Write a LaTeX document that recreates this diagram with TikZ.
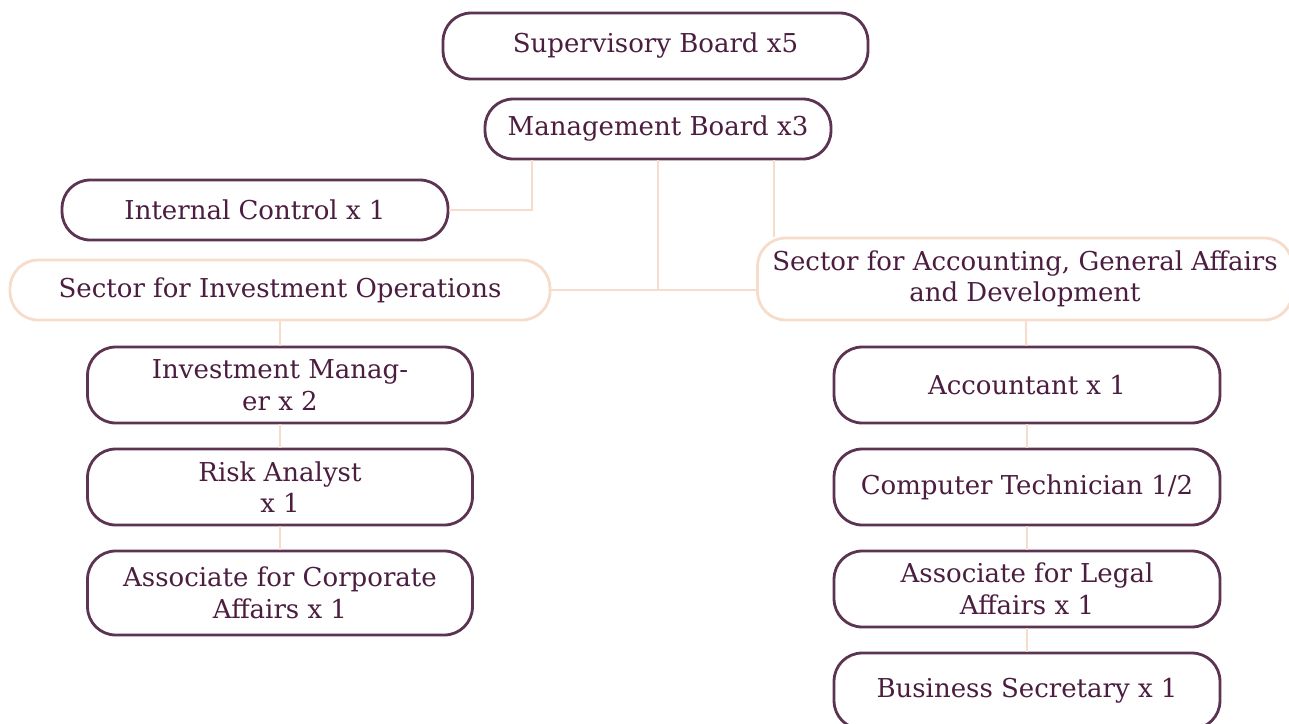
\documentclass[tikz,border=0pt]{standalone}
\usepackage{fontspec}
\setmainfont{DejaVu Serif}
\definecolor{plum}{HTML}{4B1D3F}
\definecolor{plumline}{HTML}{5C3452}
\definecolor{peach}{HTML}{F6DCCB}

\begin{document}
\begin{tikzpicture}[x=0.02cm, y=-0.02cm,
    unit/.style ={rectangle, rounded corners=16pt, draw=plumline, line width=1.6pt,
                  text=plum, align=center, inner sep=2pt,
                  font=\fontsize{14.8}{18}\selectfont, minimum height=1.2cm},
    sector/.style ={unit, draw=peach},
    link/.style ={draw=peach, line width=1.2pt}]
   \useasboundingbox (0,0) rectangle (1289,724);
   \clip (0,0) rectangle (1289,724);
   \node[unit, minimum width=8.5cm, minimum height=1.32cm] (SB) at (655.5,46) {Supervisory Board x5};
   \node[unit, minimum width=6.92cm] (MB) at (658,129) {Management Board x3};
   \node[unit, minimum width=7.72cm] (IC) at (255,210) {Internal Control x 1};
   \node[sector, minimum width=10.8cm] (SIO) at (280,290) {Sector for Investment Operations};
   \node[sector, minimum width=10.7cm, minimum height=1.64cm] (SAG) at (1025,279)
      {Sector for Accounting, General Affairs\\and Development};
   \node[unit, minimum width=7.7cm, minimum height=1.52cm] (IM) at (280,385) {Investment Manag-\\er x 2};
   \node[unit, minimum width=7.7cm, minimum height=1.52cm] (RA) at (280,487) {Risk Analyst\\x 1};
   \node[unit, minimum width=7.7cm, minimum height=1.68cm] (ACA) at (280,593) {Associate for Corporate\\Affairs x 1};
   \node[unit, minimum width=7.72cm, minimum height=1.52cm] (ACC) at (1027,385) {Accountant x 1};
   \node[unit, minimum width=7.72cm, minimum height=1.52cm] (CT) at (1027,487) {Computer Technician 1/2};
   \node[unit, minimum width=7.72cm, minimum height=1.52cm] (ALA) at (1027,589) {Associate for Legal\\Affairs x 1};
   \node[unit, minimum width=7.72cm, minimum height=1.52cm] (BS) at (1027,691) {Business Secretary x 1};
   \draw[link] (IC.east) -| ([xshift=-2.52cm]MB.south);
   \draw[link] (MB.south) -- (MB.south |- SIO.east);
   \draw[link] (SIO.east) -- (SIO.east -| SAG.west);
   \draw[link] ([xshift=2.32cm]MB.south) -- ([xshift=2.32cm]MB.south |- SAG.north);
   \draw[link] (SIO) -- (IM);
   \draw[link] (IM) -- (RA);
   \draw[link] (RA) -- (ACA);
   \draw[link] (SAG) -- (ACC);
   \draw[link] (ACC) -- (CT);
   \draw[link] (CT) -- (ALA);
   \draw[link] (ALA) -- (BS);
 \end{tikzpicture}
\end{document}
